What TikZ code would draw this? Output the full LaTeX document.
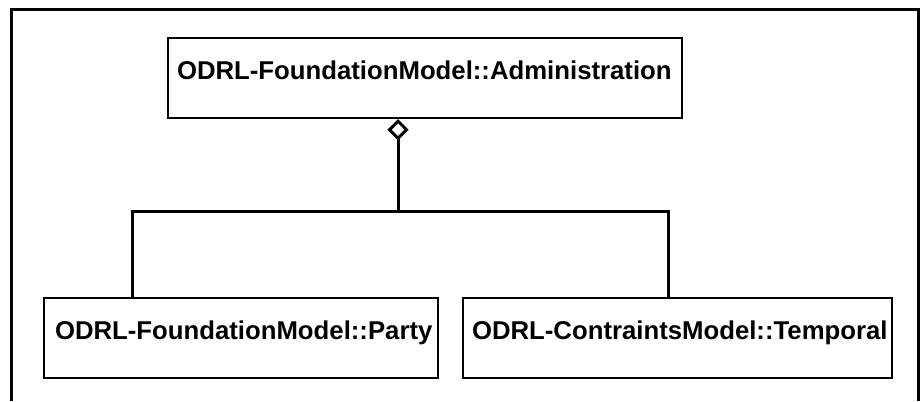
\documentclass[tikz,border=0pt]{standalone}
\usepackage{fontspec}
\setmainfont{Liberation Sans}
\usetikzlibrary{arrows.meta}
\def\pxu{0.75pt}
\tikzset{
  umlbox/.style={draw, line width=1.5pt, rectangle, anchor=north west,
    inner xsep=9*\pxu, inner ysep=0pt,
    minimum height=80*\pxu, text height=19*\pxu, text depth=17*\pxu,
    font=\fontsize{19.3pt}{23pt}\selectfont\bfseries},
  conn/.style={line width=2.25pt, line cap=butt},
  agg/.style={conn, -{Diamond[open, length=16pt, width=16pt]}},
  frame/.style={line width=2.25pt}
}
\begin{document}
\begin{tikzpicture}[x=0.75pt, y=-0.75pt]
\useasboundingbox (0,0) rectangle (921,401);
\draw[frame] (11,401) -- (11,9) -- (918,9) -- (918,401);
\node[umlbox] (admin) at (167,37) {\makebox[372pt][l]{ODRL-FoundationModel::Administration}};
\node[umlbox, inner xsep=11*\pxu] (party) at (43,297) {\makebox[279pt][l]{ODRL-FoundationModel::Party}};
\node[umlbox] (temporal) at (462,297) {\makebox[308.25pt][l]{ODRL-ContraintsModel::Temporal}};
\coordinate (j) at (398,211);
\coordinate (jl) at (132,211);
\coordinate (jr) at (668,211);
\draw[agg] (j) -- (admin.south -| j);
\draw[conn] (jl |- party.north) -- (jl) -- (jr) -- (jr |- temporal.north);
\end{tikzpicture}
\end{document}
